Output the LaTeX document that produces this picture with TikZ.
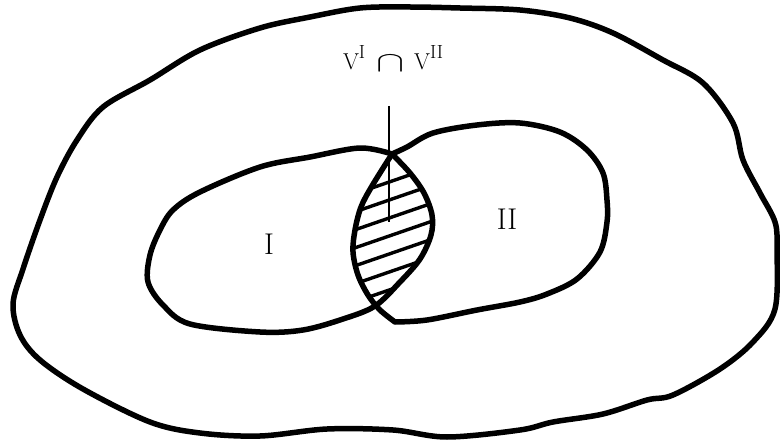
\documentclass[tikz,border=0pt]{standalone}
\usepackage{graphicx}
\begin{document}
\begin{tikzpicture}[x=1pt,y=-1pt,
  bound/.style={line width=5.5pt,line join=round,line cap=round},
  hatch/.style={line width=3.4pt},
  pointer/.style={line width=2.6pt},
  lbl/.style={inner sep=0pt,font=\fontsize{30}{30}\selectfont}]
\useasboundingbox (0,0) rectangle (780,444);
% universal set
\draw[bound] plot[smooth cycle,tension=0.55] coordinates {
 (40,220) (57,177) (77,140) (103,107) (150,80) (200,50) (260,28) (310,17)
 (360,8) (410,7) (460,8) (520,10) (570,18) (613,33) (663,60) (703,83)
 (733,123) (743,160) (760,193) (775,222) (777,249) (775,309) (753,342)
 (720,369) (673,395) (647,400) (603,414) (553,422) (520,430) (447,437)
 (393,430) (327,429) (260,436) (200,433) (150,422) (83,389) (40,360)
 (20,335) (13,304) (23,269)};
\def\setIpath{plot[smooth,tension=0.55] coordinates {
 (392,154) (360,148) (310,157) (260,167) (200,192) (173,210) (160,230)
 (150,255) (148,282) (163,305) (190,324) (260,332) (303,330) (343,319)
 (375,306) (400,282) (420,259) (431,235) (432,215) (424,193) (410,173) (392,154)} -- cycle}
\def\setIIpath{plot[smooth,tension=0.55] coordinates {
 (392,154) (407,147) (433,133) (477,125) (520,123) (560,132) (587,150)
 (603,173) (607,200) (607,222) (600,252) (577,279) (547,294) (520,302)
 (477,310) (427,320) (395,322)} -- plot[smooth,tension=0.55] coordinates {
 (395,322) (380,310) (368,295) (358,275) (353,252) (355,230) (361,207)
 (372,186) (392,154)} -- cycle}
% hatching of the intersection
\begin{scope}
 \clip \setIpath;
 \clip \setIIpath;
 \foreach \c in {192,210,228,246,264,282,300}
   \draw[hatch] (340,\c+7) -- (450,\c-31);
\end{scope}
\draw[bound] \setIpath;
\draw[bound] \setIIpath;
% pointer line and label
\coordinate (ptop) at (389,106);
\coordinate (pbot) at (389,222);
\draw[pointer] (ptop) -- (pbot);
\node[inner sep=0pt,anchor=base] (cap) at (393,70) {\fontsize{23}{23}\selectfont
 V\raisebox{0.5em}{\fontsize{19}{19}\selectfont I}\hspace{0.5em}\raisebox{-0.05em}{\scalebox{1.7}[1.15]{$\cap$}}\hspace{0.4em}V\raisebox{0.5em}{\fontsize{19}{19}\selectfont II}};
\node[lbl] (one) at (269,244) {I};
\node[lbl] (two) at (507,219) {II};
\end{tikzpicture}
\end{document}
